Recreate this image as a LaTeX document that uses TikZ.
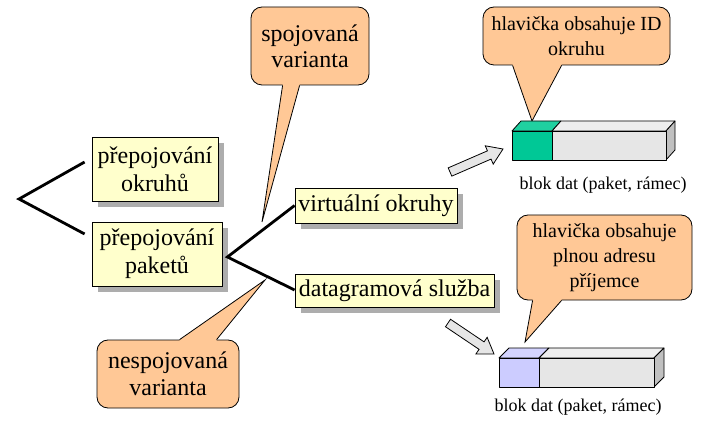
\documentclass[tikz,border=0pt]{standalone}
\usepackage{fontspec}
\setmainfont{Liberation Serif}
\newfontfamily\tnr{Liberation Serif}
\usetikzlibrary{shadows,calc}
\definecolor{boxyellow}{HTML}{FFFFCC}
\definecolor{calloutfill}{HTML}{FFC896}
\definecolor{hdrgreen}{HTML}{00C896}
\definecolor{hdrgreentop}{HTML}{20D0A0}
\definecolor{hdrblue}{HTML}{CCCCFF}
\definecolor{hdrbluetop}{HTML}{D4D4FF}
\definecolor{datafront}{HTML}{E6E6E6}
\definecolor{datatop}{HTML}{EEEEEE}
\definecolor{dataside}{HTML}{C0C0C0}
\tikzset{
  ybox/.style={draw=black, line width=0.8pt, fill=boxyellow, inner sep=2pt, align=center,
    font=\tnr\fontsize{24}{28}\selectfont,
    drop shadow={shadow xshift=6pt, shadow yshift=-6pt, fill=black!32, opacity=1}},
  cbox/.style={draw=black, line width=0.8pt, fill=calloutfill, rounded corners=11pt, align=center, inner sep=2pt},
  cside/.style={draw=black, line width=0.8pt, line join=miter},
  forkline/.style={line width=2.8pt, line cap=butt, line join=miter},
  blockface/.style={draw=black, line width=0.8pt, line join=round},
  fatarrow/.style={draw=black, line width=0.8pt, fill=datafront, line join=miter},
  caption/.style={font=\tnr\fontsize{18}{22}\selectfont, inner sep=0pt}
}
\begin{document}
\begin{tikzpicture}[x=1pt,y=-1pt]
\useasboundingbox (0,0) rectangle (704,422);

% yellow boxes
\node[ybox, minimum width=126pt, minimum height=64pt] (b1) at (155,169) {přepojování\\okruhů};
\node[ybox, minimum width=130pt, minimum height=64pt] (b2) at (157,254) {přepojování\\paketů};
\node[ybox, minimum width=162pt, minimum height=35pt] (b3) at (376,205.5) {virtuální okruhy};
\node[ybox, minimum width=199pt, minimum height=33pt] (b4) at (394.5,290.5) {datagramová služba};

% forks
\coordinate (f1) at (19,199);
\coordinate (f1a) at ($(b1.west)+(-7,-7)$);
\coordinate (f1b) at ($(b2.west)+(-7,-20)$);
\draw[forkline] (f1a) -- (f1) -- (f1b);
\coordinate (f2) at ($(b2.east)+(5,3)$);
\draw[forkline] (b3.west) -- (f2) -- ($(b4.west)+(0,-0.5)$);

% callout: spojovaná varianta
\node[cbox, minimum width=118pt, minimum height=78pt, font=\tnr\fontsize{24}{26}\selectfont] (c1) at (310,46) {spojovaná\\varianta};
\coordinate (c1tip) at (262,222);
\fill[calloutfill] ($(c1.south west)+(32,-2)$) -- ($(c1.south west)+(32,0)$) -- (c1tip) -- ($(c1.south west)+(49,0)$) -- ($(c1.south west)+(49,-2)$) -- cycle;
\draw[cside] ($(c1.south west)+(32,0)$) -- (c1tip) -- ($(c1.south west)+(49,0)$);

% callout: nespojovaná varianta
\node[cbox, minimum width=142pt, minimum height=68pt, font=\tnr\fontsize{24}{27}\selectfont] (c2) at (168,374) {nespojovaná\\varianta};
\coordinate (c2tip) at (265,280);
\fill[calloutfill] ($(c2.north west)+(83,2)$) -- ($(c2.north west)+(83,0)$) -- (c2tip) -- ($(c2.north west)+(120,0)$) -- ($(c2.north west)+(120,2)$) -- cycle;
\draw[cside] ($(c2.north west)+(83,0)$) -- (c2tip) -- ($(c2.north west)+(120,0)$);

% callout: hlavička obsahuje ID okruhu
\node[cbox, minimum width=187pt, minimum height=58pt, font=\tnr\fontsize{20}{25}\selectfont] (c3) at (576.5,36) {hlavička obsahuje ID\\okruhu};
\coordinate (c3tip) at (532,121);
\fill[calloutfill] ($(c3.south west)+(30,-2)$) -- ($(c3.south west)+(30,0)$) -- (c3tip) -- ($(c3.south west)+(79,0)$) -- ($(c3.south west)+(79,-2)$) -- cycle;
\draw[cside] ($(c3.south west)+(30,0)$) -- (c3tip) -- ($(c3.south west)+(79,0)$);

% callout: hlavička obsahuje plnou adresu příjemce
\node[cbox, minimum width=175pt, minimum height=85pt, font=\tnr\fontsize{20}{25}\selectfont] (c4) at (604.5,257.5) {hlavička obsahuje\\plnou adresu\\příjemce};
\coordinate (c4tip) at (525,342);
\fill[calloutfill] ($(c4.south west)+(16,-2)$) -- ($(c4.south west)+(16,0)$) -- (c4tip) -- ($(c4.south west)+(45,0)$) -- ($(c4.south west)+(45,-2)$) -- cycle;
\draw[cside] ($(c4.south west)+(16,0)$) -- (c4tip) -- ($(c4.south west)+(45,0)$);

% block 1 (virtual circuits)
\draw[blockface, fill=hdrgreentop] (512,131) -- (521,121) -- (561,121) -- (552,131) -- cycle;
\draw[blockface, fill=datatop] (552,131) -- (561,121) -- (675,121) -- (666,131) -- cycle;
\draw[blockface, fill=dataside] (666,131) -- (675,121) -- (675,150) -- (666,160) -- cycle;
\draw[blockface, fill=hdrgreen] (512,131) rectangle (552,160);
\draw[blockface, fill=datafront] (552,131) rectangle (666,160);
\node[caption] (cap1) at (603,185) {blok dat (paket, rámec)};

% block 2 (datagrams)
\draw[blockface, fill=hdrbluetop] (499,358) -- (509,348) -- (549,348) -- (539,358) -- cycle;
\draw[blockface, fill=datatop] (539,358) -- (549,348) -- (664,348) -- (654,358) -- cycle;
\draw[blockface, fill=dataside] (654,358) -- (664,348) -- (664,377) -- (654,387) -- cycle;
\draw[blockface, fill=hdrblue] (499,358) rectangle (539,387);
\draw[blockface, fill=datafront] (539,358) rectangle (654,387);
\node[caption] (cap2) at (578,407) {blok dat (paket, rámec)};

% fat arrow 1
\coordinate (a1t) at (450,172);
\coordinate (a1h) at (503,149);
\coordinate (a1m) at ($(a1h)!15pt!(a1t)$);
\draw[fatarrow] ($(a1t)!4.5pt!90:(a1h)$) -- ($(a1m)!4.5pt!90:(a1h)$) -- ($(a1m)!10pt!90:(a1h)$) -- (a1h)
  -- ($(a1m)!10pt!-90:(a1h)$) -- ($(a1m)!4.5pt!-90:(a1h)$) -- ($(a1t)!4.5pt!-90:(a1h)$) -- cycle;

% fat arrow 2
\coordinate (a2t) at (448,323);
\coordinate (a2h) at (494,354);
\coordinate (a2m) at ($(a2h)!15pt!(a2t)$);
\draw[fatarrow] ($(a2t)!4.5pt!90:(a2h)$) -- ($(a2m)!4.5pt!90:(a2h)$) -- ($(a2m)!10pt!90:(a2h)$) -- (a2h)
  -- ($(a2m)!10pt!-90:(a2h)$) -- ($(a2m)!4.5pt!-90:(a2h)$) -- ($(a2t)!4.5pt!-90:(a2h)$) -- cycle;
\end{tikzpicture}
\end{document}
